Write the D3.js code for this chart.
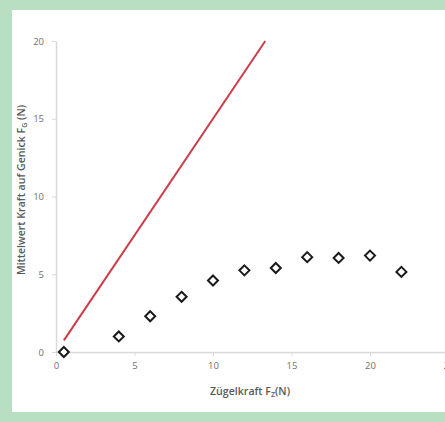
<!DOCTYPE html>
<html>
<head>
<meta charset="utf-8">
<script src="https://cdn.jsdelivr.net/npm/d3@7"></script>
<style>
  body { margin: 0; background: #b9dfc2; }
  svg { display: block; }
  text { font-family: "Open Sans", "Liberation Sans", sans-serif; }
</style>
</head>
<body>
<div id="chart"></div>
<script>
const width = 445;
const height = 422;

// measured points: Zügelkraft (N) vs. mean force on the poll (N)
const zugelKraft = [0.5, 4, 6, 8, 10, 12, 14, 16, 18, 20, 22];
const genickKraft = [0, 1.0, 2.3, 3.55, 4.6, 5.25, 5.4, 6.1, 6.05, 6.2, 5.15];

// reference line F_G = 1.5 * F_Z
const lineX = [0.5, 13.33];
const lineY = [0.75, 20];

const xTicks = [0, 5, 10, 15, 20, 25];
const yTicks = [0, 5, 10, 15, 20];

const svg = d3.select("#chart")
  .append("svg")
  .attr("width", width)
  .attr("height", height);

// white panel on the green page
svg.append("rect")
  .attr("x", 12)
  .attr("y", 10)
  .attr("width", width - 12)
  .attr("height", 402)
  .attr("fill", "#ffffff");

const x = d3.scaleLinear().domain([0, 25]).range([56, 448.5]);
const y = d3.scaleLinear().domain([0, 20]).range([352, 41]);

const axisColor = "#d9d9d9";
const labelColor = "#707070";

// x axis
const xAxis = svg.append("g")
  .attr("transform", `translate(0,${y(0)})`)
  .call(d3.axisBottom(x).tickValues(xTicks).tickSize(4).tickPadding(6).tickSizeOuter(0));
xAxis.select(".domain").attr("stroke", axisColor).attr("stroke-width", 1.5);
xAxis.selectAll(".tick line").attr("stroke", axisColor);
xAxis.selectAll(".tick text").attr("fill", labelColor).attr("font-size", 9.5);

// y axis
const yAxis = svg.append("g")
  .attr("transform", `translate(${x(0)},0)`)
  .call(d3.axisLeft(y).tickValues(yTicks).tickSize(4).tickPadding(8).tickSizeOuter(0));
yAxis.select(".domain").attr("stroke", axisColor).attr("stroke-width", 1.5);
yAxis.selectAll(".tick line").attr("stroke", axisColor);
yAxis.selectAll(".tick text").attr("fill", labelColor).attr("font-size", 9.5);

// axis titles
const xTitle = svg.append("text")
  .attr("x", 250)
  .attr("y", 395)
  .attr("text-anchor", "middle")
  .attr("font-size", 10.6)
  .attr("font-weight", 600)
  .attr("fill", "#595959");
xTitle.append("tspan").text("Zügelkraft F");
xTitle.append("tspan").attr("font-size", 7).attr("dy", 2).text("Z");
xTitle.append("tspan").attr("dy", -2).text("(N)");

const yTitle = svg.append("text")
  .attr("transform", "translate(25,190) rotate(-90)")
  .attr("text-anchor", "middle")
  .attr("font-size", 10.6)
  .attr("font-weight", 600)
  .attr("fill", "#595959");
yTitle.append("tspan").text("Mittelwert Kraft auf Genick F");
yTitle.append("tspan").attr("font-size", 7).attr("dy", 2).text("G");
yTitle.append("tspan").attr("dy", -2).text(" (N)");

// red reference line
svg.append("path")
  .datum(d3.zip(lineX, lineY))
  .attr("fill", "none")
  .attr("stroke", "#cc3d4a")
  .attr("stroke-width", 2)
  .attr("d", d3.line().x(d => x(d[0])).y(d => y(d[1])));

// open diamond markers
svg.append("g")
  .selectAll("path")
  .data(d3.zip(zugelKraft, genickKraft))
  .enter()
  .append("path")
  .attr("transform", d => `translate(${x(d[0])},${y(d[1])})`)
  .attr("d", "M0,-5L5,0L0,5L-5,0Z")
  .attr("fill", "#ffffff")
  .attr("stroke", "#1a1a1a")
  .attr("stroke-width", 2);
</script>
</body>
</html>
